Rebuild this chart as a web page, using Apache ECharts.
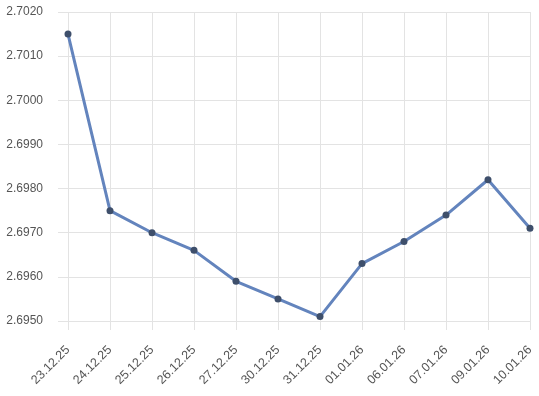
<!DOCTYPE html>
<html><head><meta charset="utf-8">
<script src="https://cdn.jsdelivr.net/npm/echarts@6/dist/echarts.min.js"></script>
<style>html,body{margin:0;padding:0;background:#fff}#c{width:539px;height:396px}</style>
</head><body><div id="c"></div>
<script>
const categories = ['23.12.25','24.12.25','25.12.25','26.12.25','27.12.25','30.12.25','31.12.25','01.01.26','06.01.26','07.01.26','09.01.26','10.01.26'];
const values = [2.7015, 2.6975, 2.6970, 2.6966, 2.6959, 2.6955, 2.6951, 2.6963, 2.6968, 2.6974, 2.6982, 2.6971];
const yMin = 2.6950, yMax = 2.7020, yStep = 0.001;

const chart = echarts.init(document.getElementById('c'), null, {renderer:'canvas'});
const gridColor = '#e3e3e3';
chart.setOption({
  animation: false,
  grid: {left: 68, right: 9, top: 12, bottom: 75},
  xAxis: {
    type: 'category', data: categories, boundaryGap: false,
    axisLine: {show: false},
    axisTick: {show: true, length: 9, alignWithLabel: true, lineStyle: {color: gridColor}},
    splitLine: {show: true, lineStyle: {color: gridColor, width: 1}},
    axisLabel: {rotate: 45, margin: 27, color: '#555', fontSize: 12.5, fontFamily: 'Liberation Sans, Arial, sans-serif', interval: 0}
  },
  yAxis: {
    type: 'value', min: yMin, max: yMax, interval: yStep,
    axisLine: {show: false},
    axisTick: {show: true, length: 10, lineStyle: {color: gridColor}},
    splitLine: {show: true, lineStyle: {color: gridColor, width: 1}},
    axisLabel: {margin: 25, color: '#555', fontSize: 12, fontFamily: 'Liberation Sans, Arial, sans-serif', formatter: v => v.toFixed(4)}
  },
  series: [{
    type: 'line', data: values,
    symbol: 'circle', symbolSize: 7,
    lineStyle: {color: '#6384bd', width: 3},
    itemStyle: {color: '#3e4f6b'}
  }]
});
</script></body></html>
